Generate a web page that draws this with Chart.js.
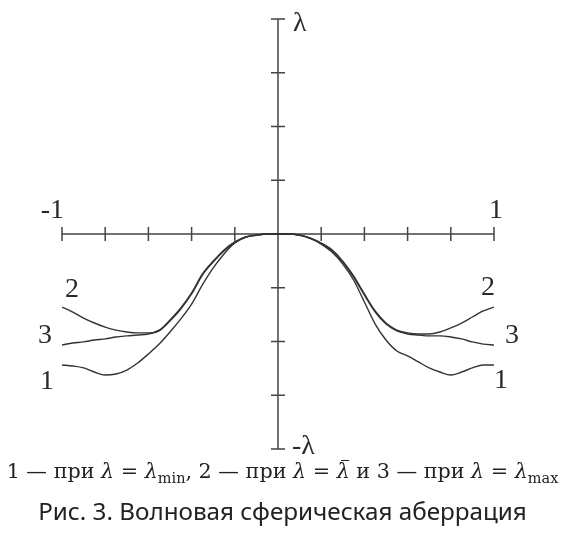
<!DOCTYPE html>
<html>
<head>
<meta charset="utf-8">
<script src="https://cdn.jsdelivr.net/npm/chart.js@4/dist/chart.umd.min.js"></script>
<style>
  html, body { margin: 0; padding: 0; background: #fff; }
  #wrap { position: relative; width: 565px; height: 538px; }
  #c { position: absolute; left: 0; top: 0; }
  .cap { position: absolute; left: 0; width: 565px; text-align: center; color: #222; white-space: nowrap; line-height: 1; }
  .cap span.t { display: inline-block; }
  #cap1 { font-family: "DejaVu Serif", serif; font-size: 20px; }
  #cap1 i { font-style: italic; }
  #cap1 sub { font-size: 0.7em; vertical-align: -0.35em; line-height: 0; font-style: normal; }
  #cap2 { font-family: "Noto Sans", sans-serif; font-size: 22px; }
  .bar { display: inline-block; position: relative; }
  .bar::before { content: ""; position: absolute; left: 0.2em; right: 0.05em; top: -0.02em; border-top: 1px solid #222; }
</style>
</head>
<body>
<div id="wrap">
  <canvas id="c" width="565" height="538"></canvas>
  <div class="cap" id="cap1"><span class="t">1 — при <i>λ</i> = <i>λ</i><sub>min</sub>, 2 — при <i>λ</i> = <span class="bar"><i>λ</i></span> и 3 — при <i>λ</i> = <i>λ</i><sub>max</sub></span></div>
  <div class="cap" id="cap2"><span class="t">Рис. 3. Волновая сферическая аберрация</span></div>
</div>
<script>
// Pupil coordinate (normalised, -1 … 1)
const xs = [-1, -0.95, -0.9, -0.85, -0.8, -0.75, -0.7, -0.65, -0.6, -0.55, -0.5,
            -0.45, -0.4, -0.35, -0.3, -0.25, -0.2, -0.15, -0.1, -0.05, 0,
            0.05, 0.1, 0.15, 0.2, 0.25, 0.3, 0.35, 0.4, 0.45, 0.5,
            0.55, 0.6, 0.65, 0.7, 0.75, 0.8, 0.85, 0.9, 0.95, 1];

// Wave aberration in units of λ
// 1 — λ = λmin
const waveMin = [-0.609, -0.614, -0.623, -0.642, -0.656, -0.651, -0.633, -0.600, -0.558, -0.512, -0.456,
                 -0.395, -0.326, -0.237, -0.158, -0.093, -0.042, -0.014, -0.005, 0, 0,
                 0, -0.005, -0.019, -0.047, -0.084, -0.140, -0.214, -0.316, -0.419, -0.493,
                 -0.544, -0.567, -0.595, -0.623, -0.642, -0.656, -0.642, -0.623, -0.609, -0.609];
// 2 — λ = λ̄ (mean)
const waveMean = [-0.340, -0.363, -0.391, -0.414, -0.433, -0.447, -0.456, -0.460, -0.460, -0.447, -0.400,
                  -0.344, -0.274, -0.186, -0.126, -0.074, -0.037, -0.014, -0.005, 0, 0,
                  0, -0.005, -0.019, -0.042, -0.074, -0.126, -0.195, -0.279, -0.358, -0.414,
                  -0.447, -0.460, -0.465, -0.465, -0.456, -0.437, -0.414, -0.386, -0.358, -0.340];
// 3 — λ = λmax
const waveMax = [-0.516, -0.507, -0.502, -0.493, -0.488, -0.479, -0.474, -0.470, -0.465, -0.451, -0.405,
                 -0.349, -0.279, -0.191, -0.130, -0.079, -0.040, -0.016, -0.006, 0, 0,
                 0, -0.006, -0.021, -0.044, -0.077, -0.130, -0.200, -0.284, -0.363, -0.419,
                 -0.451, -0.465, -0.470, -0.474, -0.474, -0.479, -0.488, -0.502, -0.512, -0.516];

const curveNames = ['1', '2', '3'];

// Axis ticks
const xTicks = [-1, -0.8, -0.6, -0.4, -0.2, 0.2, 0.4, 0.6, 0.8, 1];
const yTicks = [-1, -0.75, -0.5, -0.25, 0.25, 0.5, 0.75, 1];
const xEndLabels = ['-1', '1'];
const yEndLabels = ['λ', '-λ'];

const INK = '#333';
const toPoints = arr => xs.map((x, i) => ({ x: x, y: arr[i] }));

// Size each caption line to its width and centre it on the given line
function placeCaption(id, width, centerY) {
  const box = document.getElementById(id);
  const span = box.querySelector('.t');
  const base = parseFloat(getComputedStyle(box).fontSize);
  box.style.fontSize = (base * width / span.getBoundingClientRect().width) + 'px';
  const h = box.getBoundingClientRect().height;
  box.style.top = (centerY - h / 2) + 'px';
}
placeCaption('cap1', 552, 471);
placeCaption('cap2', 489, 511);

// Cross-shaped axes through the origin, with end labels and curve numbers
const crossAxes = {
  id: 'crossAxes',
  beforeDatasetsDraw(chart) {
    const { ctx, scales: { x, y } } = chart;
    const x0 = x.getPixelForValue(0), y0 = y.getPixelForValue(0);
    const t = 7;
    ctx.save();
    ctx.strokeStyle = '#444';
    ctx.lineWidth = 1.5;
    ctx.beginPath();
    ctx.moveTo(x.getPixelForValue(-1), y0);
    ctx.lineTo(x.getPixelForValue(1), y0);
    ctx.moveTo(x0, y.getPixelForValue(1));
    ctx.lineTo(x0, y.getPixelForValue(-1));
    xTicks.forEach(v => {
      const px = x.getPixelForValue(v);
      ctx.moveTo(px, y0 - t); ctx.lineTo(px, y0 + t);
    });
    yTicks.forEach(v => {
      const py = y.getPixelForValue(v);
      ctx.moveTo(x0 - t, py); ctx.lineTo(x0 + t, py);
    });
    ctx.stroke();
    ctx.restore();
  },
  afterDatasetsDraw(chart) {
    const { ctx, scales: { x, y } } = chart;
    const x0 = x.getPixelForValue(0), y0 = y.getPixelForValue(0);
    ctx.save();
    ctx.fillStyle = '#2a2a2a';
    ctx.font = '28px "Liberation Serif", serif';
    ctx.textBaseline = 'alphabetic';
    ctx.textAlign = 'right';
    ctx.fillText(xEndLabels[0], x.getPixelForValue(-1) + 2, y0 - 16);
    ctx.textAlign = 'center';
    ctx.fillText(xEndLabels[1], x.getPixelForValue(1) + 2, y0 - 16);
    ctx.textAlign = 'left';
    ctx.fillText(yEndLabels[0], x0 + 15, y.getPixelForValue(1) + 12);
    ctx.fillText(yEndLabels[1], x0 + 14, y.getPixelForValue(-1) + 5);

    // Curve numbers beside both ends of each line
    const leftOff = [[-15, 17], [10, -17], [-17, -9]];
    const rightOff = [[7, 16], [-6, -19], [18, -9]];
    ctx.textAlign = 'center';
    ctx.textBaseline = 'middle';
    chart.data.datasets.forEach((ds, i) => {
      const meta = chart.getDatasetMeta(i);
      const a = meta.data[0], b = meta.data[meta.data.length - 1];
      ctx.fillText(curveNames[i], a.x + leftOff[i][0], a.y + leftOff[i][1]);
      ctx.fillText(curveNames[i], b.x + rightOff[i][0], b.y + rightOff[i][1]);
    });
    ctx.restore();
  }
};

new Chart(document.getElementById('c'), {
  type: 'line',
  data: {
    datasets: [
      { label: curveNames[0], data: toPoints(waveMin) },
      { label: curveNames[1], data: toPoints(waveMean) },
      { label: curveNames[2], data: toPoints(waveMax) }
    ].map(d => Object.assign(d, {
      borderColor: INK, borderWidth: 1.4, pointRadius: 0, fill: false,
      cubicInterpolationMode: 'monotone'
    }))
  },
  options: {
    responsive: false,
    animation: false,
    events: [],
    layout: { padding: { left: 62, right: 71, top: 19, bottom: 89 } },
    plugins: { legend: { display: false }, tooltip: { enabled: false } },
    scales: {
      x: { type: 'linear', min: -1, max: 1, display: false },
      y: { type: 'linear', min: -1, max: 1, display: false }
    }
  },
  plugins: [crossAxes]
});
</script>
</body>
</html>
